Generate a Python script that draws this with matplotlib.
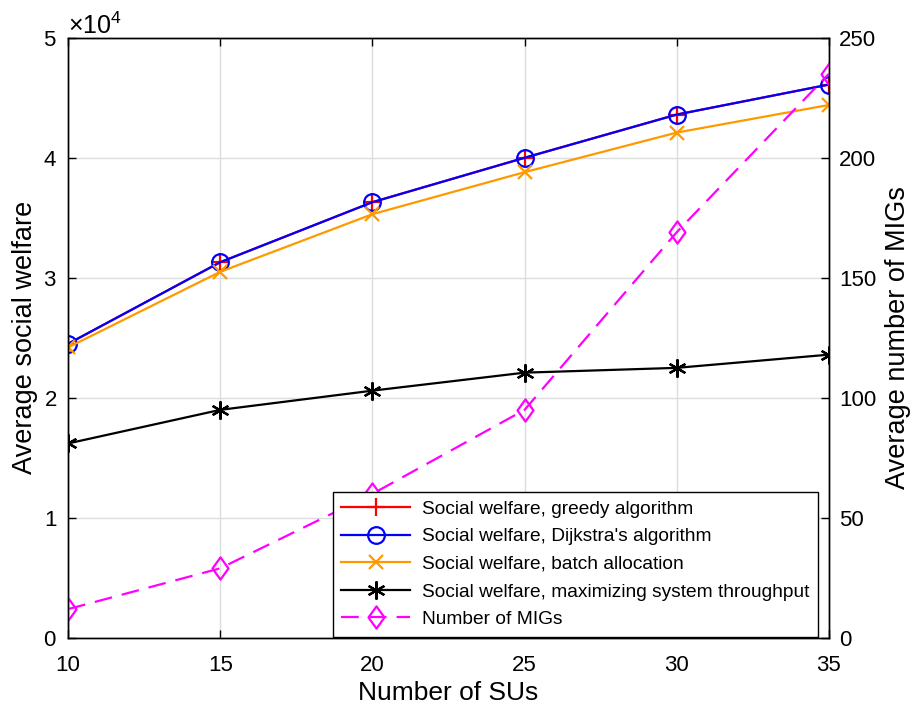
import numpy as np
import matplotlib.pyplot as plt
from matplotlib.path import Path
from matplotlib.ticker import ScalarFormatter

plt.rcParams['font.family'] = ['Liberation Sans', 'DejaVu Sans']
plt.rcParams['mathtext.fontset'] = 'custom'
plt.rcParams['mathtext.rm'] = 'Liberation Sans'

num_sus = [10, 15, 20, 25, 30, 35]
welfare_greedy = [24500, 31300, 36300, 40000, 43600, 46100]
welfare_dijkstra = [24500, 31300, 36300, 40000, 43600, 46100]
welfare_batch = [24200, 30500, 35300, 38800, 42100, 44400]
welfare_throughput = [16200, 19000, 20600, 22100, 22500, 23600]
num_migs = [12, 29, 60, 95, 169, 235]

# tall diamond like matlab's 'd'
diamond = Path([(0, 1), (0.72, 0), (0, -1), (-0.72, 0), (0, 1)],
               [Path.MOVETO, Path.LINETO, Path.LINETO, Path.LINETO, Path.CLOSEPOLY])

fig = plt.figure(figsize=(9.19, 7.12), dpi=100)
ax = fig.add_axes([0.074, 0.104, 0.828, 0.843])
ax2 = ax.twinx()

l1, = ax.plot(num_sus, welfare_greedy, color='red', marker='+', markersize=13,
              markeredgewidth=1.6, linewidth=1.6, label='Social welfare, greedy algorithm')
l2, = ax.plot(num_sus, welfare_dijkstra, color='blue', marker='o', markersize=12,
              markerfacecolor='none', markeredgewidth=1.6, linewidth=1.6,
              label="Social welfare, Dijkstra's algorithm")
l3, = ax.plot(num_sus, welfare_batch, color=(1.0, 0.6, 0.0), marker='x', markersize=10,
              markeredgewidth=1.6, linewidth=1.6, label='Social welfare, batch allocation')
l4, = ax.plot(num_sus, welfare_throughput, color='black', marker=(6, 2, 0), markersize=13,
              markeredgewidth=1.6, linewidth=1.6,
              label='Social welfare, maximizing system throughput')
l5, = ax2.plot(num_sus, num_migs, color='magenta', marker=diamond, markersize=16,
               markerfacecolor='none', markeredgewidth=1.6, linewidth=1.6,
               linestyle=(0, (8, 4.5)), label='Number of MIGs')

ax.set_xlim(10, 35)
ax.set_ylim(0, 50000)
ax2.set_ylim(0, 250)
ax.set_xticks(num_sus)
ax.set_yticks(np.arange(0, 50001, 10000))
ax2.set_yticks(np.arange(0, 251, 50))

fmt = ScalarFormatter(useMathText=True)
fmt.set_powerlimits((0, 0))
ax.yaxis.set_major_formatter(fmt)
ax.yaxis.get_offset_text().set_fontsize(18)
ax.yaxis.get_offset_text().set_x(0.0)

ax.grid(True, color='#dcdcdc', linewidth=1.0)
ax.set_axisbelow(True)
for a in (ax, ax2):
    a.tick_params(direction='in', length=6, width=1.0, labelsize=16, colors='black')
    for s in a.spines.values():
        s.set_linewidth(1.0)
ax.tick_params(top=True)
ax.tick_params(axis='x', pad=12)
ax.tick_params(axis='y', pad=8)
ax2.tick_params(axis='y', pad=7.5)

ax.set_xlabel('Number of SUs', fontsize=19, labelpad=4)
ax.set_ylabel('Average social welfare', fontsize=19.5, labelpad=4)
ax2.set_ylabel('Average number of MIGs', fontsize=19.5, labelpad=6)

leg = ax2.legend(handles=[l1, l2, l3, l4, l5], loc='lower right',
                 bbox_to_anchor=(0.9855, 0.002), fontsize=13.8,
                 fancybox=False, edgecolor='black', framealpha=1.0,
                 handlelength=3.6, borderaxespad=0.0, labelspacing=0.53,
                 borderpad=0.45, handletextpad=0.6)
leg.get_frame().set_linewidth(1.0)

fig.savefig('out.png', dpi=100)
